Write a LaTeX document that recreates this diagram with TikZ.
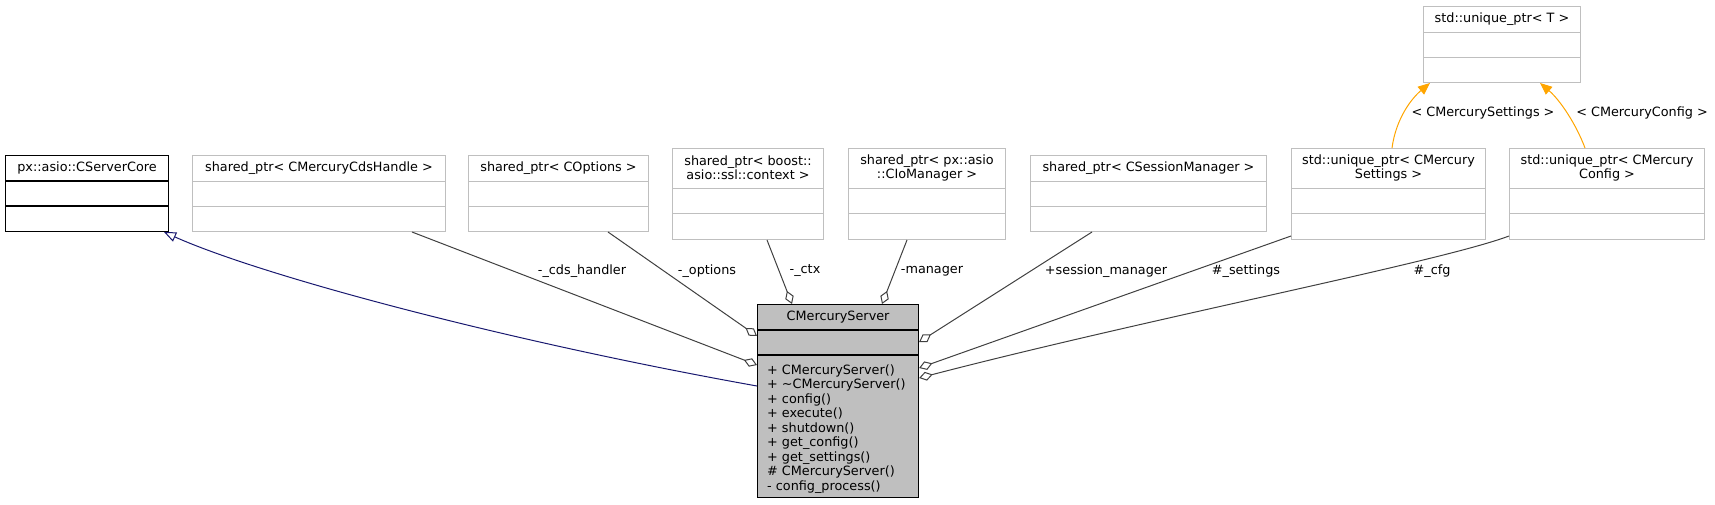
\documentclass[tikz,border=0pt]{standalone}
\usepackage{fontspec}
\setmainfont{DejaVu Sans}
\usetikzlibrary{arrows.meta,calc}
\definecolor{boxgray}{HTML}{BFBFBF}
\definecolor{edgegray}{HTML}{404040}
\definecolor{inhblue}{HTML}{191970}
\definecolor{tmplorange}{HTML}{FFA500}
\newcommand{\classbox}[8]{%
  \node[#7, minimum width=#4pt, minimum height=#5pt, anchor=north west, inner sep=0pt] (#1) at (#2,#3) {};
  \draw[#7, fill=none] ($(#1.north west)+(0,#6)$) -- ($(#1.north east)+(0,#6)$);
  \draw[#7, fill=none] ($(#1.north west)+(0,#6+25)$) -- ($(#1.north east)+(0,#6+25)$);
  \node[align=center, inner sep=0pt] (#1-title) at ($(#1.north)+(0,#6/2)$) {#8};
}
\begin{document}
\begin{tikzpicture}[x=1pt,y=-1pt,
  every node/.style={font=\fontsize{12.8}{14}\selectfont},
  plainbox/.style={draw=boxgray, line width=1pt},
  blackbox/.style={draw=black, line width=1.1pt},
  mainbox/.style={draw=black, fill=boxgray, line width=1.1pt},
  member/.style={draw=edgegray, line width=1pt, -{Diamond[open, length=14pt, width=9pt, line width=1pt]}},
  inherit/.style={draw=inhblue, line width=1pt, -{Triangle[open, length=12pt, width=10pt, line width=1pt]}},
  tmpl/.style={draw=tmplorange, line width=1pt, -{Triangle[length=12pt, width=10pt]}},
  elabel/.style={inner sep=0pt}]
\useasboundingbox (0,0) rectangle (1715,504);

\classbox{A}{5}{155}{163}{76}{26}{blackbox}{px::asio::CServerCore}
\classbox{B}{192}{155}{253}{76}{26}{plainbox}{shared\_ptr< CMercuryCdsHandle >}
\classbox{C}{468}{155}{180}{76}{26}{plainbox}{shared\_ptr< COptions >}
\classbox{D}{672}{148}{151}{91}{40}{plainbox}{shared\_ptr< boost::\\asio::ssl::context >}
\classbox{E}{848}{148}{157}{91}{40}{plainbox}{shared\_ptr< px::asio\\::CIoManager >}
\classbox{F}{1030}{155}{236}{76}{26}{plainbox}{shared\_ptr< CSessionManager >}
\classbox{G}{1291}{148}{194}{91}{40}{plainbox}{std::unique\_ptr< CMercury\\Settings >}
\classbox{H}{1509}{148}{195}{91}{40}{plainbox}{std::unique\_ptr< CMercury\\Config >}
\classbox{T}{1423}{6}{157}{76}{26}{plainbox}{std::unique\_ptr< T >}
\classbox{S}{757}{304}{161}{193}{26}{mainbox}{CMercuryServer}

\node[anchor=west, align=left, inner sep=0pt, font=\fontsize{12.8}{14.5}\selectfont] (S-methods) at (767,429) {%
+ CMercuryServer()\\
+ \textasciitilde CMercuryServer()\\
+ config()\\
+ execute()\\
+ shutdown()\\
+ get\_config()\\
+ get\_settings()\\
\# CMercuryServer()\\
- config\_process()};

% inheritance
\draw[inherit] ($(S.north west)+(0,82)$) .. controls (500,340) and (260,275) .. ($(A.south east)+(-5,0)$);

% members
\draw[member] ($(B.south west)+(220,0)$) -- ($(S.north west)+(0,61)$);
\draw[member] ($(C.south west)+(140,0)$) -- ($(S.north west)+(0,32)$);
\draw[member] ($(D.south west)+(95,0)$) -- ($(S.north west)+(35,0)$);
\draw[member] ($(E.south west)+(59,0)$) -- ($(S.north west)+(125,0)$);
\draw[member] ($(F.south west)+(62,0)$) -- ($(S.north east)+(0,38)$);
\draw[member] ($(G.south west)+(0,-4)$) -- ($(S.north east)+(0,64)$);
\draw[member] ($(H.south west)+(0,-4)$) .. controls (1440,262) and (1150,318) .. ($(S.north east)+(0,74)$);

% template instances
\draw[tmpl] ($(G.north west)+(101,0)$) .. controls (1396,118) and (1412,98) .. ($(T.south west)+(7,0)$);
\draw[tmpl] ($(H.north west)+(76,0)$) .. controls (1576,124) and (1560,100) .. ($(T.south west)+(117,0)$);

% labels
\node[elabel] (l-cds) at (582,271) {-\_cds\_handler};
\node[elabel] (l-opt) at (707,271) {-\_options};
\node[elabel] (l-ctx) at (805,271) {-\_ctx};
\node[elabel] (l-man) at (932,271) {-manager};
\node[elabel] (l-ses) at (1106,271) {+session\_manager};
\node[elabel] (l-set) at (1246,271) {\#\_settings};
\node[elabel] (l-cfg) at (1432,271) {\#\_cfg};
\node[elabel] (l-tset) at (1483,113) {< CMercurySettings >};
\node[elabel] (l-tcfg) at (1642,113) {< CMercuryConfig >};
\end{tikzpicture}
\end{document}
